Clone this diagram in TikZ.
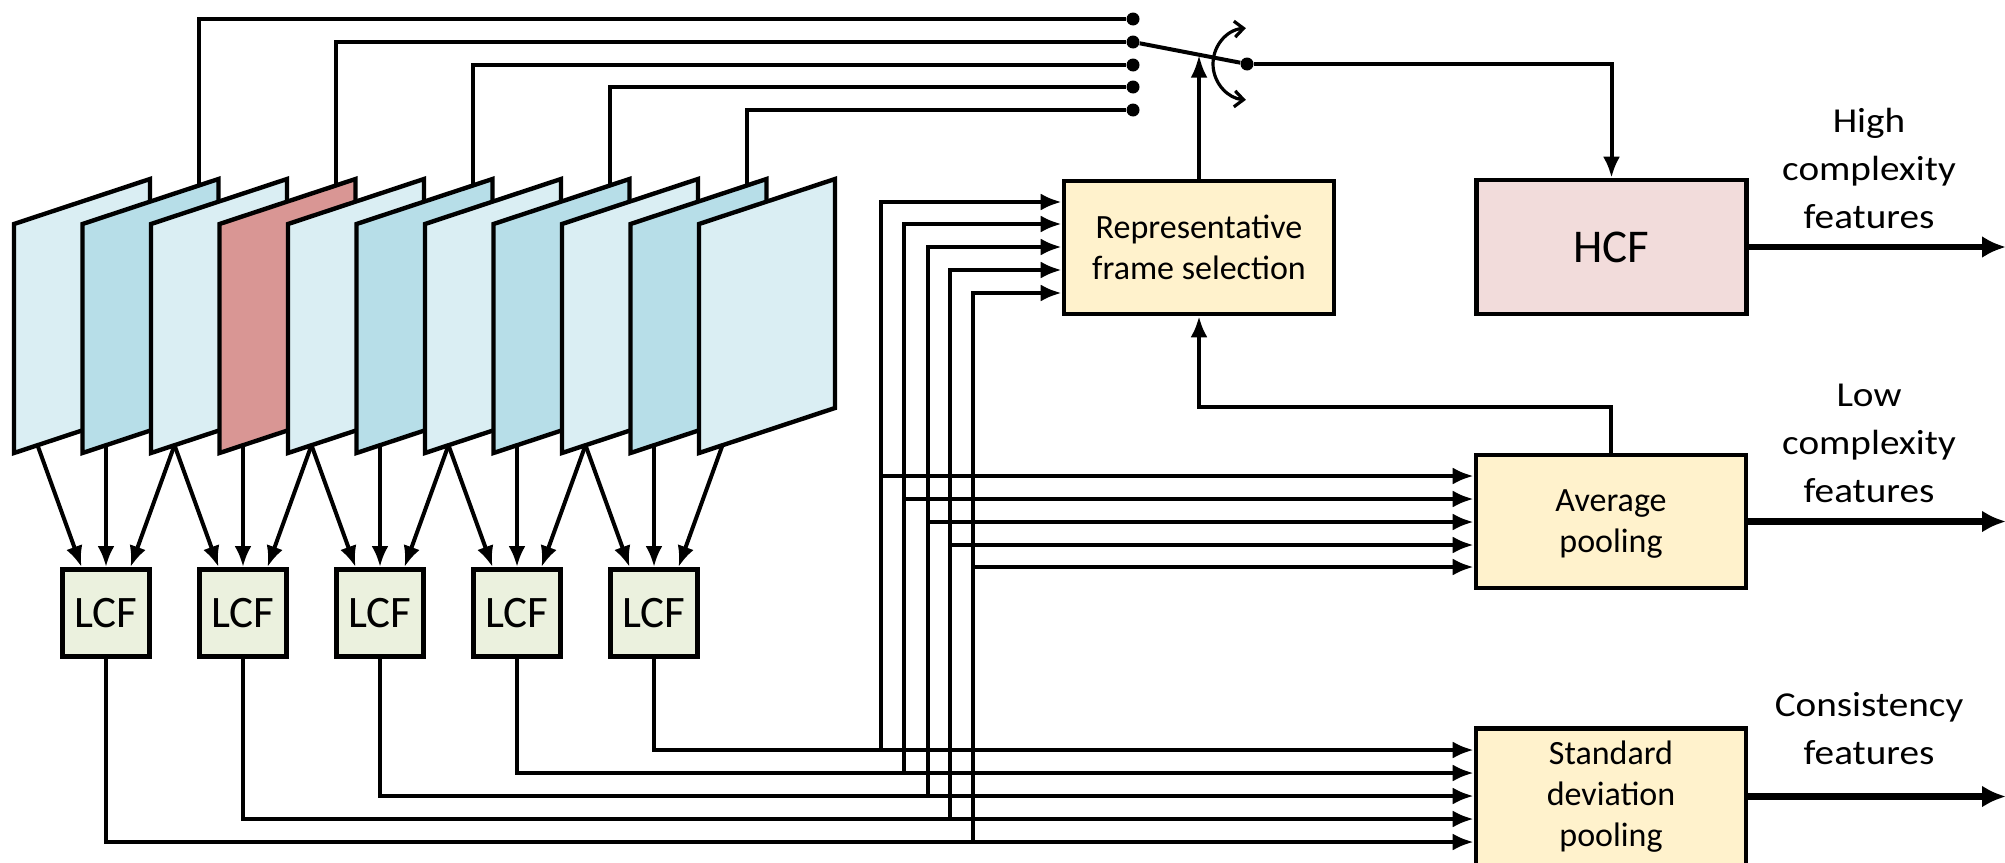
\documentclass[tikz,border=0pt]{standalone}
\usepackage{fontspec}
\setmainfont{Carlito}
\newfontfamily\lblfont{Carlito}[FakeStretch=1.12]
\usetikzlibrary{arrows.meta,calc}
\definecolor{frA}{HTML}{DAEEF3}
\definecolor{frB}{HTML}{B7DEE8}
\definecolor{frR}{HTML}{D99694}
\definecolor{boxY}{HTML}{FFF2CC}
\definecolor{boxP}{HTML}{F2DCDB}
\definecolor{boxG}{HTML}{EBF1DE}
\begin{document}
\begin{tikzpicture}[x=0.5pt,y=-0.5pt,
  conn/.style={line width=2pt},
  arr/.style={conn,-{Latex[length=10.5pt,width=8.5pt]}},
  outarr/.style={line width=3.2pt,-{Latex[length=12pt,width=11pt]}},
  framebox/.style={draw,line width=2.2pt},
  blk/.style={draw,line width=2.3pt,inner sep=0pt,align=center},
  ybox/.style={blk,fill=boxY,minimum width=135pt,minimum height=66.5pt,font=\fontsize{17pt}{20.5pt}\selectfont},
  lcfbox/.style={blk,fill=boxG,minimum width=43.7pt,minimum height=43.7pt,font=\fontsize{22.5pt}{27pt}\selectfont},
  dot/.style={circle,fill=black,inner sep=0pt,minimum size=6.5pt},
  lbl/.style={align=center,font=\lblfont\fontsize{17.5pt}{24pt}\selectfont},
]
\useasboundingbox (0,0) rectangle (2005,862);
\clip (0,0) rectangle (2005,862);

% frames
\foreach \i/\c in {1/frA,2/frB,3/frA,4/frR,5/frA,6/frB,7/frA,8/frB,9/frA,10/frB,11/frA} {
  \pgfmathsetmacro\L{14+68.5*(\i-1)}
  \draw[framebox,fill=\c] (\L,224) -- (\L+136,179) -- (\L+136,408) -- (\L,453) -- cycle;
  \coordinate (ft\i) at (\L+116,185.6);
  \coordinate (fb\i) at (\L+23.5,445.2);
}

% dots and switch
\foreach \k/\y in {1/19,2/42,3/65,4/87,5/110}
  \node[dot] (d\k) at (1133,\y) {};
\node[dot] (sw) at (1247,64) {};

% boxes
\node[ybox] (rep) at (1199,247.5) {Representative\\frame selection};
\node[blk,fill=boxP,minimum width=135pt,minimum height=67pt,font=\fontsize{23.5pt}{28pt}\selectfont] (hcf) at (1611.5,247) {HCF};
\node[ybox,text depth=0pt] (avg) at (1611,521.5) {Average\\pooling};
\node[ybox,minimum height=68.5pt] (std) at (1611,797) {Standard\\deviation\\pooling};
\foreach \k in {1,...,5}
  \node[lcfbox] (lcf\k) at ({106+137*(\k-1)},613) {LCF};

% frame top lines to switch contacts
\foreach \i/\k in {2/1,4/2,6/3,8/4,10/5}
  \draw[conn] (ft\i) |- (d\k);

% switch
\draw[conn] (d2) -- (sw);
\draw[arr] (sw) -| (hcf.north);
\coordinate (swp) at ($(d2.center)!0.579!(sw.center)$);
\draw[line width=2.2pt,-{Latex[length=11.5pt,width=8.5pt]}] (rep.north) -- (rep.north |- swp);
\coordinate (arcc) at (1249,64);
\draw[line width=1.6pt,{Straight Barb[length=4.5pt,width=8pt]}-{Straight Barb[length=4.5pt,width=8pt]}]
  ([shift={(95:18pt)}]arcc) arc[start angle=95,end angle=265,radius=18pt];

% frames to LCF
\foreach \k in {1,...,5} {
  \pgfmathtruncatemacro\a{2*\k-1}
  \pgfmathtruncatemacro\b{2*\k}
  \pgfmathtruncatemacro\c{2*\k+1}
  \draw[arr] (fb\a) -- ($(lcf\k.north)+(-24.5,0)$);
  \draw[arr] (fb\b) -- (lcf\k.north);
  \draw[arr] (fb\c) -- ($(lcf\k.north)+(24.5,0)$);
}

% LCF outputs to pooling and selection
\foreach \k/\ys/\xv/\yr/\ya in {1/842/973/293/567,2/819/950/270/545,3/796/928/247/522,4/773/904/224/499,5/750/881/202/476} {
  \coordinate (j\k) at (\xv,\ys);
  \coordinate (ja\k) at (\xv,\ya);
  \draw[arr] (lcf\k.south) |- (std.west |- 0,\ys);
  \draw[arr] (j\k) |- (rep.west |- 0,\yr);
  \draw[arr] (ja\k) -- (avg.west |- 0,\ya);
}

% average pooling to selection
\draw[arr] (avg.north) -- ++(0,-46) -| (rep.south);

% outputs
\coordinate (oh) at (2006,247);
\coordinate (oa) at (2006,521.5);
\coordinate (os) at (2006,796.5);
\draw[outarr] (hcf.east) -- (oh);
\draw[outarr] (avg.east) -- (oa);
\draw[outarr] (std.east |- os) -- (os);

% labels
\node[lbl] (lh) at (1869,168) {High\\complexity\\features};
\node[lbl] (ll) at (1869,443) {Low\\complexity\\features};
\node[lbl] (lc) at (1869,729) {Consistency\\features};
\end{tikzpicture}
\end{document}
